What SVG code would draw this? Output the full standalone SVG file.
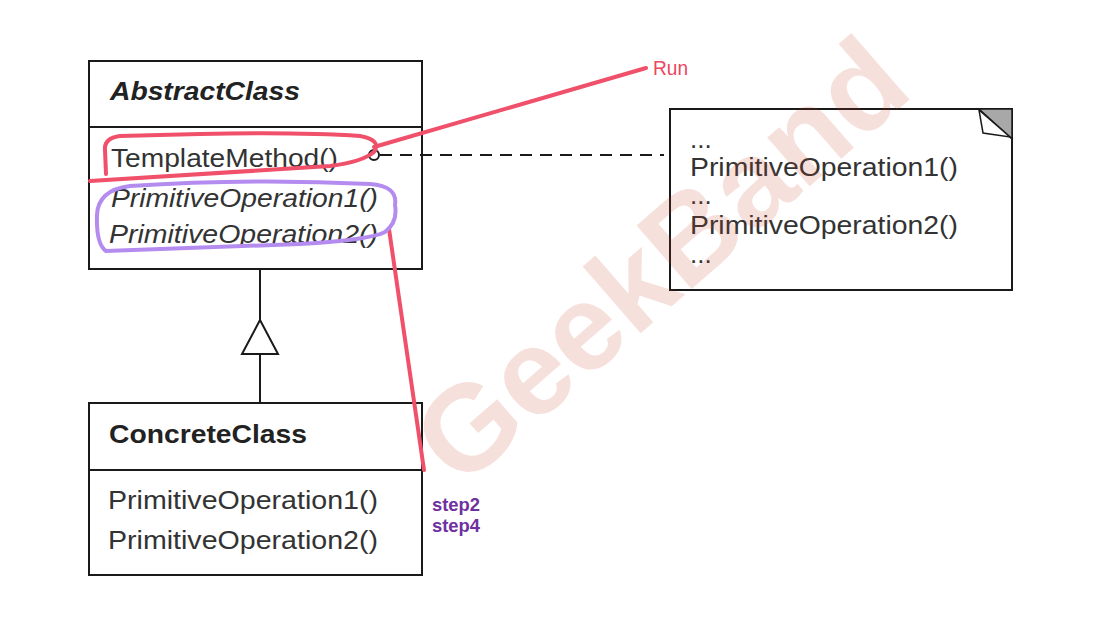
<svg xmlns="http://www.w3.org/2000/svg" width="1103" height="625" viewBox="0 0 1103 625">
<style>
.box{fill:#fff;stroke:#1a1a1a;stroke-width:2}
.t{font-family:"Liberation Sans",Arial,sans-serif;font-size:26px;fill:#333}
.b{font-weight:bold;font-size:25px;fill:#222}
.i{font-style:italic}
.red{fill:none;stroke:#f0506a;stroke-width:4;stroke-linecap:round;stroke-linejoin:round}
.pur{fill:none;stroke:#b48cf0;stroke-width:4;stroke-linecap:round}
.lbl{font-family:"Liberation Sans",Arial,sans-serif;font-size:19px}
.run{font-family:"Liberation Sans",Arial,sans-serif;font-size:21px;fill:#ec4660}
</style>
<rect width="1103" height="625" fill="#fff"/>
<g id="AbstractClass">
  <rect class="box" x="89" y="61" width="333" height="208"/>
  <line x1="89" y1="127" x2="422" y2="127" stroke="#1a1a1a" stroke-width="2"/>
  <text class="t b i" x="110" y="100" textLength="190" lengthAdjust="spacingAndGlyphs">AbstractClass</text>
  <text class="t" x="111" y="167" textLength="227" lengthAdjust="spacingAndGlyphs">TemplateMethod()</text>
  <text class="t i" x="111" y="207" textLength="267" lengthAdjust="spacingAndGlyphs">PrimitiveOperation1()</text>
  <text class="t i" x="109" y="243" textLength="269" lengthAdjust="spacingAndGlyphs">PrimitiveOperation2()</text>
</g>
<g id="ConcreteClass">
  <rect class="box" x="89" y="403" width="333" height="172"/>
  <line x1="89" y1="470" x2="422" y2="470" stroke="#1a1a1a" stroke-width="2"/>
  <text class="t b" x="109" y="443" textLength="198" lengthAdjust="spacingAndGlyphs">ConcreteClass</text>
  <text class="t" x="108" y="509" textLength="270" lengthAdjust="spacingAndGlyphs">PrimitiveOperation1()</text>
  <text class="t" x="108" y="549" textLength="270" lengthAdjust="spacingAndGlyphs">PrimitiveOperation2()</text>
</g>
<g id="Note">
  <rect class="box" x="670" y="109" width="342" height="181"/>
  <polygon points="979,109 1012,109 1012,139" fill="#a8a8a8" stroke="#1a1a1a" stroke-width="1.5"/>
  <polygon points="979,110 983,133 1010,137" fill="#fff" stroke="#1a1a1a" stroke-width="1.5"/>
  <text class="t" x="690" y="148">...</text>
  <text class="t" x="690" y="176" textLength="268" lengthAdjust="spacingAndGlyphs">PrimitiveOperation1()</text>
  <text class="t" x="690" y="204">...</text>
  <text class="t" x="690" y="234" textLength="268" lengthAdjust="spacingAndGlyphs">PrimitiveOperation2()</text>
  <text class="t" x="690" y="263">...</text>
</g>
<g id="connectors">
  <line x1="380" y1="155" x2="664" y2="155" stroke="#1a1a1a" stroke-width="2" stroke-dasharray="12 8"/>
  <circle cx="374" cy="155" r="5" fill="#fff" stroke="#1a1a1a" stroke-width="2"/>
  <line x1="260" y1="269" x2="260" y2="320" stroke="#1a1a1a" stroke-width="2"/>
  <polygon points="260,320 278,354 242,354" fill="#fff" stroke="#1a1a1a" stroke-width="2"/>
  <line x1="260" y1="354" x2="260" y2="403" stroke="#1a1a1a" stroke-width="2"/>
</g>
<g id="watermark">
  <text x="688" y="292" transform="rotate(-41 688 292)" text-anchor="middle" font-family="Liberation Sans,Arial,sans-serif" font-weight="bold" font-size="122" fill="#c83c28" fill-opacity="0.16">GeekBand</text>
</g>
<g id="annotations">
  <path class="red" d="M90 181 L330 166 Q362 162 374 152 Q382 140 360 136 Q300 132 200 134 L120 136 Q104 138 105 150 L106 174"/>
  <path class="red" d="M374 147 L646 68"/>
  <path class="red" d="M389 229 L424 470"/>
  <path class="pur" d="M395 205 Q398 186 370 184 Q250 178 130 186 Q98 190 97 215 Q96 244 106 251 Q200 248 300 244 Q370 240 385 232 Q398 222 395 205"/>
  <text class="run" x="653" y="75" textLength="35" lengthAdjust="spacingAndGlyphs">Run</text>
  <text class="lbl" x="432" y="511" fill="#7030a0" font-weight="bold" textLength="48" lengthAdjust="spacingAndGlyphs">step2</text>
  <text class="lbl" x="432" y="532" fill="#7030a0" font-weight="bold" textLength="48" lengthAdjust="spacingAndGlyphs">step4</text>
</g>
</svg>
